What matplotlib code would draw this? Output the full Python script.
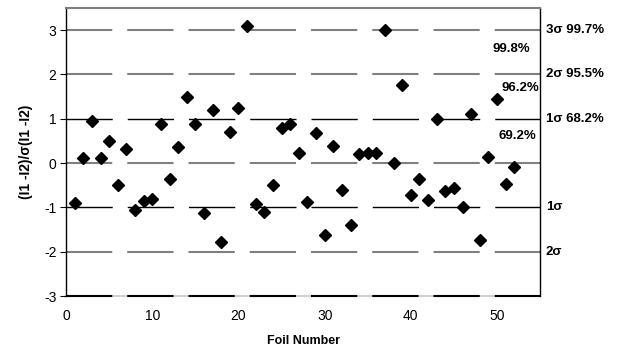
import numpy as np
import matplotlib
matplotlib.use("Agg")
import matplotlib.pyplot as plt
from matplotlib import transforms

plt.rcParams.update({
    "font.family": ["Liberation Sans", "DejaVu Sans"],
    "font.size": 10,
    "axes.unicode_minus": False,
    "lines.scale_dashes": False,
})

# foil number and normalised difference (I1-I2)/sigma(I1-I2)
foil = np.arange(1, 53)
dev = [-0.90, 0.11, 0.94, 0.11, 0.50, -0.50, 0.32, -1.07, -0.86, -0.81,
       0.87, -0.37, 0.36, 1.49, 0.87, -1.13, 1.19, -1.78, 0.70, 1.25,
       3.09, -0.93, -1.10, -0.50, 0.79, 0.87, 0.23, -0.87, 0.68, -1.62,
       0.38, -0.60, -1.40, 0.20, 0.23, 0.23, 2.99, 0.00, 1.76, -0.71,
       -0.37, -0.83, 1.00, -0.64, -0.56, -0.98, 1.11, -1.73, 0.14, 1.45,
       -0.47, -0.08]

# sigma reference lines and their labels at the right
sig_levels = [3, 2, 1, -1, -2]
sig_labels = ["3σ 99.7%", "2σ 95.5%", "1σ 68.2%", "1σ", "2σ"]
# observed fractions written inside the plot
obs_labels = ["99.8%", "96.2%", "69.2%"]
obs_y = [2.58, 1.70, 0.61]
obs_x = [53.8, 54.9, 54.6]

fig = plt.figure(figsize=(6.18, 3.58), dpi=100)
ax = fig.add_axes([0.107, 0.173, 0.767, 0.805])

dash = (0, (33.3, 10.8))
for lv in [3, 2, 0, -2]:
    ax.axhline(lv, color="#808080", lw=1.5, ls=dash, zorder=1)
for lv in [1, -1]:
    ax.axhline(lv, color="black", lw=1.0, ls=dash, zorder=1)
ax.axhline(-3, color="#d0d0d0", lw=1.5, zorder=1, clip_on=False)
ax.axhline(-3, color="black", lw=1.5, ls=dash, zorder=2, clip_on=False)

ax.plot(foil, dev, ls="none", marker="D", ms=5.8, color="black", zorder=3,
        clip_on=False)

ax.set_xlim(0, 55)
ax.set_ylim(-3, 3.5)
ax.set_xticks(range(0, 51, 10))
ax.set_yticks(range(-3, 4))
ax.tick_params(axis="x", length=0, pad=9)
ax.tick_params(axis="y", direction="out", length=4, width=0.8, pad=3)

ax.spines["bottom"].set_visible(False)
ax.spines["top"].set_color("#808080")
ax.spines["top"].set_linewidth(1.5)
ax.spines["left"].set_linewidth(1.0)
ax.spines["right"].set_linewidth(1.0)

ax.set_xlabel("Foil Number", fontweight="bold", fontsize=9, labelpad=9)
ax.set_ylabel("(I1 -I2)/σ(I1 -I2)", fontweight="bold", fontsize=10, labelpad=8)

tr = transforms.blended_transform_factory(ax.transAxes, ax.transData)
for lv, lab in zip(sig_levels, sig_labels):
    ax.text(1.012, lv, lab, transform=tr, ha="left", va="center",
            fontweight="bold", fontsize=9.5)
for x, y, lab in zip(obs_x, obs_y, obs_labels):
    ax.text(x, y, lab, ha="right", va="center", fontweight="bold", fontsize=9.5)

fig.savefig("out.png", dpi=100)
